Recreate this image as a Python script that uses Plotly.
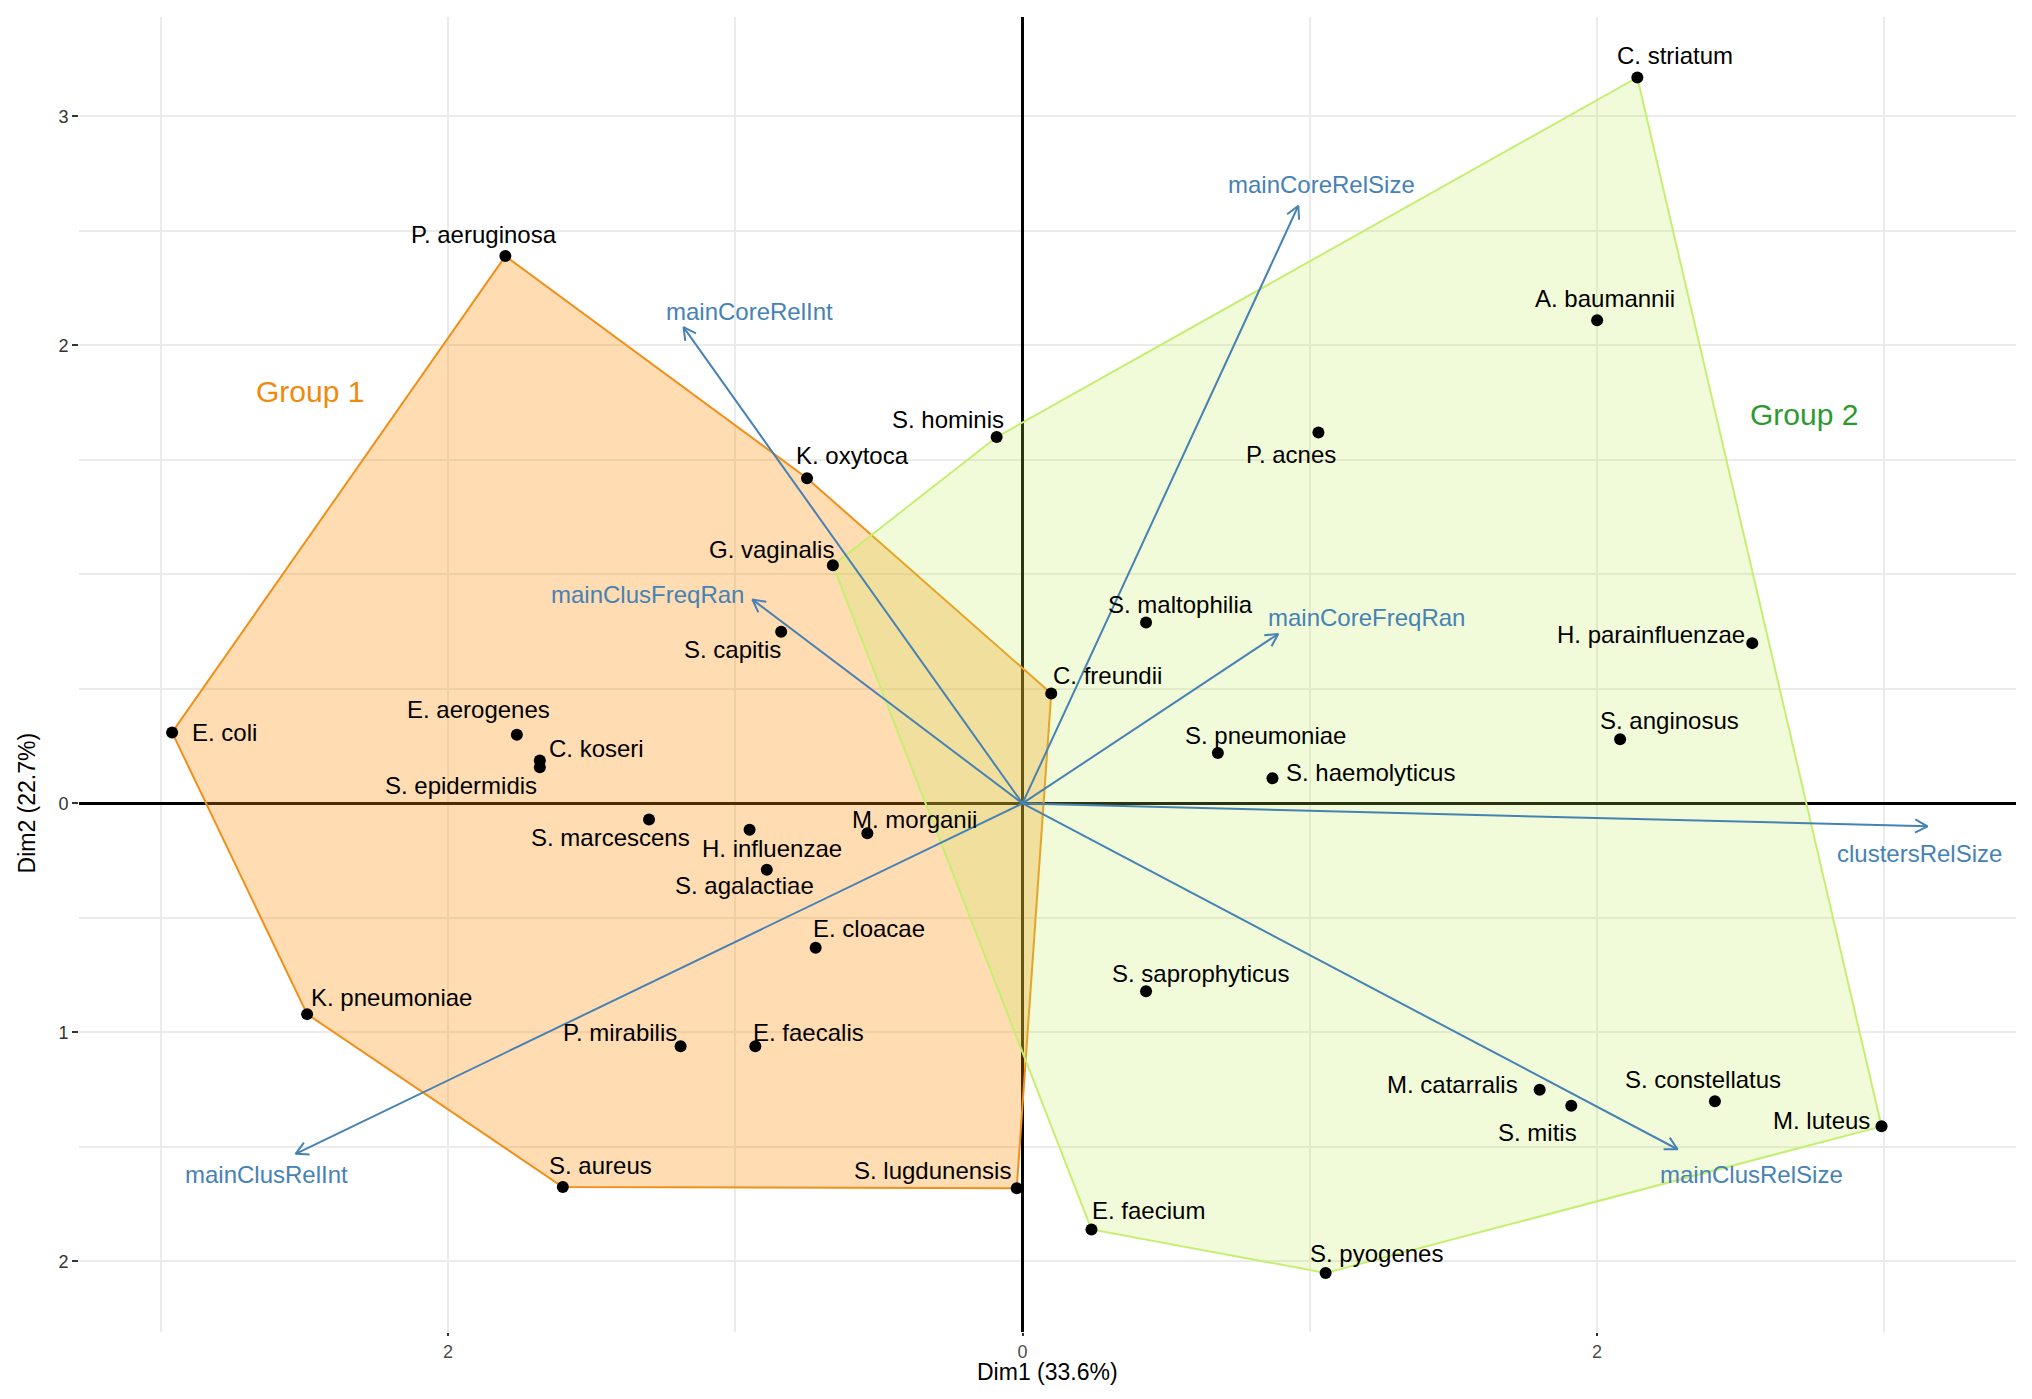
import numpy as np
import plotly.graph_objects as go

# ---------------- data ----------------
species = ["P. aeruginosa", "C. striatum", "A. baumannii", "P. acnes", "S. hominis",
           "K. oxytoca", "G. vaginalis", "S. capitis", "S. maltophilia", "C. freundii",
           "H. parainfluenzae", "S. anginosus", "S. pneumoniae", "S. haemolyticus",
           "E. coli", "E. aerogenes", "C. koseri", "S. epidermidis", "S. marcescens",
           "H. influenzae", "M. morganii", "S. agalactiae", "E. cloacae",
           "S. saprophyticus", "K. pneumoniae", "P. mirabilis", "E. faecalis",
           "M. catarralis", "S. mitis", "S. constellatus", "M. luteus", "S. aureus",
           "S. lugdunensis", "E. faecium", "S. pyogenes"]
dim1 = [-1.80, 2.14, 2.00, 1.03, -0.09,
        -0.75, -0.66, -0.84, 0.43, 0.10,
        2.54, 2.08, 0.68, 0.87,
        -2.96, -1.76, -1.68, -1.68, -1.30,
        -0.95, -0.54, -0.89, -0.72,
        0.43, -2.49, -1.19, -0.93,
        1.80, 1.91, 2.41, 2.99, -1.60,
        -0.02, 0.24, 1.055]
dim2 = [2.39, 3.17, 2.11, 1.62, 1.60,
        1.42, 1.04, 0.75, 0.79, 0.48,
        0.70, 0.28, 0.22, 0.11,
        0.31, 0.30, 0.187, 0.158, -0.07,
        -0.115, -0.13, -0.29, -0.63,
        -0.82, -0.92, -1.06, -1.06,
        -1.25, -1.32, -1.30, -1.41, -1.675,
        -1.68, -1.86, -2.05]

hull_group1 = ["P. aeruginosa", "K. oxytoca", "C. freundii", "S. lugdunensis",
               "S. aureus", "K. pneumoniae", "E. coli"]
hull_group2 = ["G. vaginalis", "S. hominis", "C. striatum", "M. luteus",
               "S. pyogenes", "E. faecium"]

variables = ["mainCoreRelSize", "mainCoreRelInt", "mainClusFreqRan", "mainCoreFreqRan",
             "clustersRelSize", "mainClusRelSize", "mainClusRelInt"]
var_dim1 = [0.96, -1.18, -0.94, 0.89, 3.15, 2.28, -2.53]
var_dim2 = [2.61, 2.08, 0.89, 0.74, -0.10, -1.51, -1.53]

group_names = ["Group 1", "Group 2"]
group_label_dim1 = [-2.48, 2.72]
group_label_dim2 = [1.80, 1.70]

x_tick_vals = [-2, 0, 2]
x_tick_text = ["2", "0", "2"]
x_minor_vals = [-3, -1, 1, 3]
y_tick_vals = [-2, -1, 0, 2, 3]
y_tick_text = ["2", "1", "0", "2", "3"]
y_minor_vals = [-1.5, -0.5, 0.5, 1, 1.5, 2.5]

x_title = "Dim1 (33.6%)"
y_title = "Dim2 (22.7%)"

# ---------------- styling / placement ----------------
BODY = 8  # default page margin of the html body
W, H = 2032 - BODY, 1399 - BODY
ML, MR, MT, MB = 79 - BODY, 16, 17 - BODY, 67
XR = [-3.284, 3.458]
YR = [-2.308, 3.434]
sx = (W - ML - MR) / (XR[1] - XR[0])
sy = (H - MT - MB) / (YR[1] - YR[0])

FONT = "Liberation Sans, Arial, Helvetica, sans-serif"
ARROW_COL = "#4682B4"

label_offsets = {
    "P. aeruginosa": (-21, 22), "C. striatum": (38, 22), "A. baumannii": (8, 22),
    "P. acnes": (-27, -22), "S. hominis": (-49, 18), "K. oxytoca": (45, 23),
    "G. vaginalis": (-61, 16), "S. capitis": (-49, -18), "S. maltophilia": (34, 18),
    "C. freundii": (56, 18), "H. parainfluenzae": (-101, 9), "S. anginosus": (49, 19),
    "S. pneumoniae": (48, 18), "S. haemolyticus": (98, 6), "E. coli": (52, 0),
    "E. aerogenes": (-38, 25), "C. koseri": (57, 12), "S. epidermidis": (-79, -18),
    "S. marcescens": (-39, -18), "H. influenzae": (22, -19), "M. morganii": (47, 14),
    "S. agalactiae": (-22, -16), "E. cloacae": (53, 19), "S. saprophyticus": (54, 18),
    "K. pneumoniae": (84, 17), "P. mirabilis": (-61, 14), "E. faecalis": (53, 14),
    "M. catarralis": (-87, 5), "S. mitis": (-34, -27), "S. constellatus": (-12, 22),
    "M. luteus": (-60, 6), "S. aureus": (38, 22), "S. lugdunensis": (-84, 18),
    "E. faecium": (57, 19), "S. pyogenes": (51, 19),
}
var_label_offsets = {
    "mainCoreRelSize": (23, 21), "mainCoreRelInt": (66, 16), "mainClusFreqRan": (-105, 5),
    "mainCoreFreqRan": (88, 16), "clustersRelSize": (-8, -27), "mainClusRelSize": (74, -25),
    "mainClusRelInt": (-29, -21),
}
group_styles = [
    dict(line="#F0901A", fill="rgba(255,140,0,0.30)", text="#F08A0C"),
    dict(line="#C6EF72", fill="rgba(190,238,80,0.22)", text="#2E9A2E"),
]

pos = {s: (x, y) for s, x, y in zip(species, dim1, dim2)}

fig = go.Figure()

# hull polygons
for hull, st in zip([hull_group1, hull_group2], group_styles):
    hx = [pos[s][0] for s in hull] + [pos[hull[0]][0]]
    hy = [pos[s][1] for s in hull] + [pos[hull[0]][1]]
    fig.add_trace(go.Scatter(x=hx, y=hy, mode="lines", fill="toself",
                             fillcolor=st["fill"], line=dict(color=st["line"], width=2),
                             hoverinfo="skip", showlegend=False))

# variable arrows
for v, vx, vy in zip(variables, var_dim1, var_dim2):
    fig.add_trace(go.Scatter(x=[0, vx], y=[0, vy], mode="lines",
                             line=dict(color=ARROW_COL, width=2),
                             hoverinfo="skip", showlegend=False))
    # open arrowhead computed in pixel space
    px, py = vx * sx, vy * sy
    n = np.hypot(px, py)
    ux, uy = px / n, py / n
    L = 14
    ang = np.deg2rad(28)
    wings = []
    for a in (ang, -ang):
        rx = ux * np.cos(a) - uy * np.sin(a)
        ry = ux * np.sin(a) + uy * np.cos(a)
        wings.append((vx - L * rx / sx, vy - L * ry / sy))
    fig.add_trace(go.Scatter(x=[wings[0][0], vx, wings[1][0]],
                             y=[wings[0][1], vy, wings[1][1]], mode="lines",
                             line=dict(color=ARROW_COL, width=2),
                             hoverinfo="skip", showlegend=False))

# points
fig.add_trace(go.Scatter(x=dim1, y=dim2, mode="markers",
                         marker=dict(color="black", size=12),
                         hovertext=species, showlegend=False))

annotations = []
for s, x, y in zip(species, dim1, dim2):
    dx, dy = label_offsets[s]
    annotations.append(dict(x=x, y=y, xref="x", yref="y", text=s, showarrow=False,
                            xshift=dx, yshift=dy,
                            font=dict(family=FONT, size=24, color="black")))
for v, vx, vy in zip(variables, var_dim1, var_dim2):
    dx, dy = var_label_offsets[v]
    annotations.append(dict(x=vx, y=vy, xref="x", yref="y", text=v, showarrow=False,
                            xshift=dx, yshift=dy,
                            font=dict(family=FONT, size=24, color=ARROW_COL)))
for g, gx, gy, st in zip(group_names, group_label_dim1, group_label_dim2, group_styles):
    annotations.append(dict(x=gx, y=gy, xref="x", yref="y", text=g, showarrow=False,
                            font=dict(family=FONT, size=30, color=st["text"])))
annotations.append(dict(x=0.5, y=0, xref="paper", yref="paper", text=x_title,
                        showarrow=False, yshift=-40, yanchor="middle",
                        font=dict(family=FONT, size=23, color="black")))
annotations.append(dict(x=0, y=0, xref="paper", yref="y", text=y_title,
                        showarrow=False, xshift=-52, textangle=-90, xanchor="center",
                        font=dict(family=FONT, size=23, color="black")))

fig.update_layout(
    width=W, height=H,
    margin=dict(l=ML, r=MR, t=MT, b=MB, pad=0),
    paper_bgcolor="white", plot_bgcolor="white",
    annotations=annotations,
    showlegend=False,
)
fig.update_xaxes(range=XR, tickvals=x_tick_vals, ticktext=x_tick_text,
                 showgrid=True, gridcolor="#EBEBEB", gridwidth=2,
                 minor=dict(tickvals=x_minor_vals, showgrid=True, gridcolor="#EBEBEB",
                            gridwidth=2, ticks=""),
                 zeroline=True, zerolinecolor="black", zerolinewidth=2.5,
                 showline=False, ticks="outside", ticklen=3, tickcolor="#333333",
                 tickwidth=2, tickfont=dict(family=FONT, size=18, color="#4D4D4D"))
fig.update_yaxes(range=YR, tickvals=y_tick_vals, ticktext=y_tick_text,
                 showgrid=True, gridcolor="#EBEBEB", gridwidth=2,
                 minor=dict(tickvals=y_minor_vals, showgrid=True, gridcolor="#EBEBEB",
                            gridwidth=2, ticks=""),
                 zeroline=True, zerolinecolor="black", zerolinewidth=2.5,
                 showline=False, ticks="outside", ticklen=6, tickcolor="#333333",
                 tickwidth=2, tickfont=dict(family=FONT, size=18, color="#333333"))

fig.write_html("out.html")
